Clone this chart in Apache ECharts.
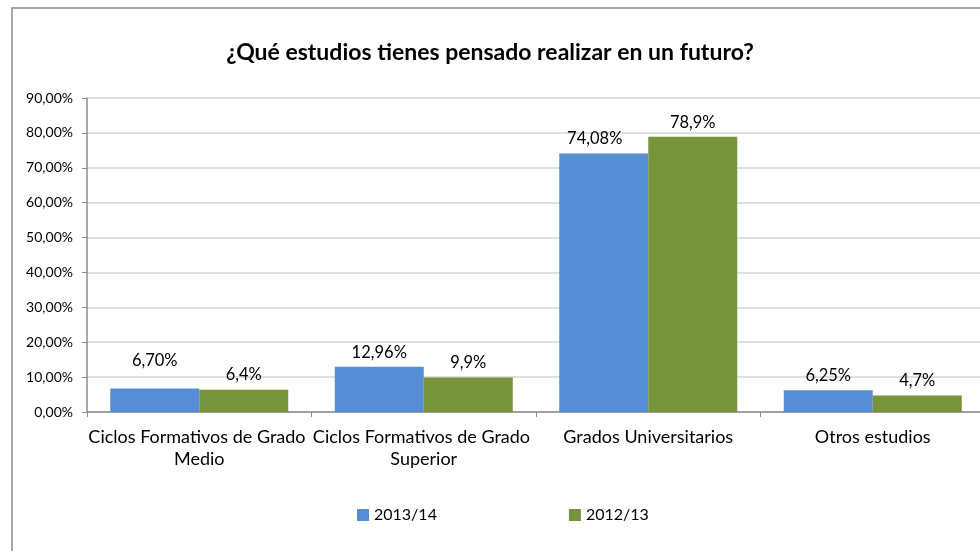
<!DOCTYPE html>
<html>
<head>
    <meta charset="utf-8">
    <title>¿Qué estudios tienes pensado realizar en un futuro?</title>
    <script src="https://cdn.jsdelivr.net/npm/echarts@6/dist/echarts.min.js"></script>
    <style>
        html, body { margin: 0; padding: 0; background: #fff; }
        #chart { width: 980px; height: 551px; }
    </style>
</head>
<body>
    <div id="chart"></div>
    <script>
        // datos
        const categories = [
            'Ciclos Formativos de Grado Medio',
            'Ciclos Formativos de Grado Superior',
            'Grados Universitarios',
            'Otros estudios'
        ];
        const seriesNames = ['2013/14', '2012/13'];
        const values1314 = [6.70, 12.96, 74.08, 6.25];
        const values1213 = [6.4, 9.9, 78.9, 4.7];
        const yTicks = [0, 10, 20, 30, 40, 50, 60, 70, 80, 90];

        const FONT = 'Lato';
        const pct = (v, d) => v.toFixed(d).replace('.', ',') + '%';

        const chart = echarts.init(document.getElementById('chart'));

        chart.setOption({
            animation: false,
            textStyle: { fontFamily: FONT },
            title: {
                text: '¿Qué estudios tienes pensado realizar en un futuro?',
                left: 'center',
                top: 36,
                textStyle: { fontFamily: FONT, fontSize: 23, fontWeight: 'bold', color: '#000' }
            },
            graphic: [{
                type: 'rect',
                shape: { x: 12, y: 8, width: 1000, height: 600 },
                style: { fill: 'none', stroke: '#8c8c8c', lineWidth: 1.5 },
                silent: true
            }],
            legend: {
                left: 352,
                top: 502,
                itemWidth: 12,
                itemHeight: 12,
                itemGap: 132,
                icon: 'rect',
                textStyle: { fontFamily: FONT, fontSize: 16, color: '#000' },
                data: seriesNames
            },
            grid: { left: 87, width: 898, top: 98, bottom: 139, outerBoundsMode: 'none' },
            xAxis: {
                type: 'category',
                data: categories,
                axisLine: { lineStyle: { color: '#8c8c8c', width: 1.5 } },
                axisTick: { show: true, length: 5, lineStyle: { color: '#8c8c8c' } },
                axisLabel: {
                    fontFamily: FONT,
                    fontSize: 18,
                    color: '#000',
                    margin: 14,
                    lineHeight: 22,
                    width: 224,
                    overflow: 'break',
                    interval: 0
                }
            },
            yAxis: {
                type: 'value',
                min: yTicks[0],
                max: yTicks[yTicks.length - 1],
                interval: 10,
                axisLine: { show: true, lineStyle: { color: '#8c8c8c', width: 1.5 } },
                axisTick: { show: true, length: 5, lineStyle: { color: '#8c8c8c' } },
                splitLine: { lineStyle: { color: '#d4d4d4', width: 1.5 } },
                axisLabel: {
                    fontFamily: FONT,
                    fontSize: 14,
                    color: '#000',
                    margin: 14,
                    formatter: v => pct(v, 2)
                }
            },
            series: [
                {
                    name: seriesNames[0],
                    type: 'bar',
                    barWidth: 89,
                    barGap: '0%',
                    itemStyle: { color: '#558ed5' },
                    label: {
                        show: true,
                        position: 'top',
                        distance: 6,
                        fontFamily: FONT,
                        fontSize: 16.5,
                        color: '#000',
                        formatter: p => pct(p.value, 2)
                    },
                    data: values1314.map((v, i) => i === 0
                        ? { value: v, label: { offset: [0, -13] } }
                        : (i === 2 ? { value: v, label: { offset: [-9, 0] } } : v))
                },
                {
                    name: seriesNames[1],
                    type: 'bar',
                    barWidth: 89,
                    barGap: '0%',
                    itemStyle: { color: '#77933c' },
                    label: {
                        show: true,
                        position: 'top',
                        distance: 6,
                        fontFamily: FONT,
                        fontSize: 16.5,
                        color: '#000',
                        formatter: p => pct(p.value, 1)
                    },
                    data: values1213
                }
            ]
        });
    </script>
</body>
</html>
